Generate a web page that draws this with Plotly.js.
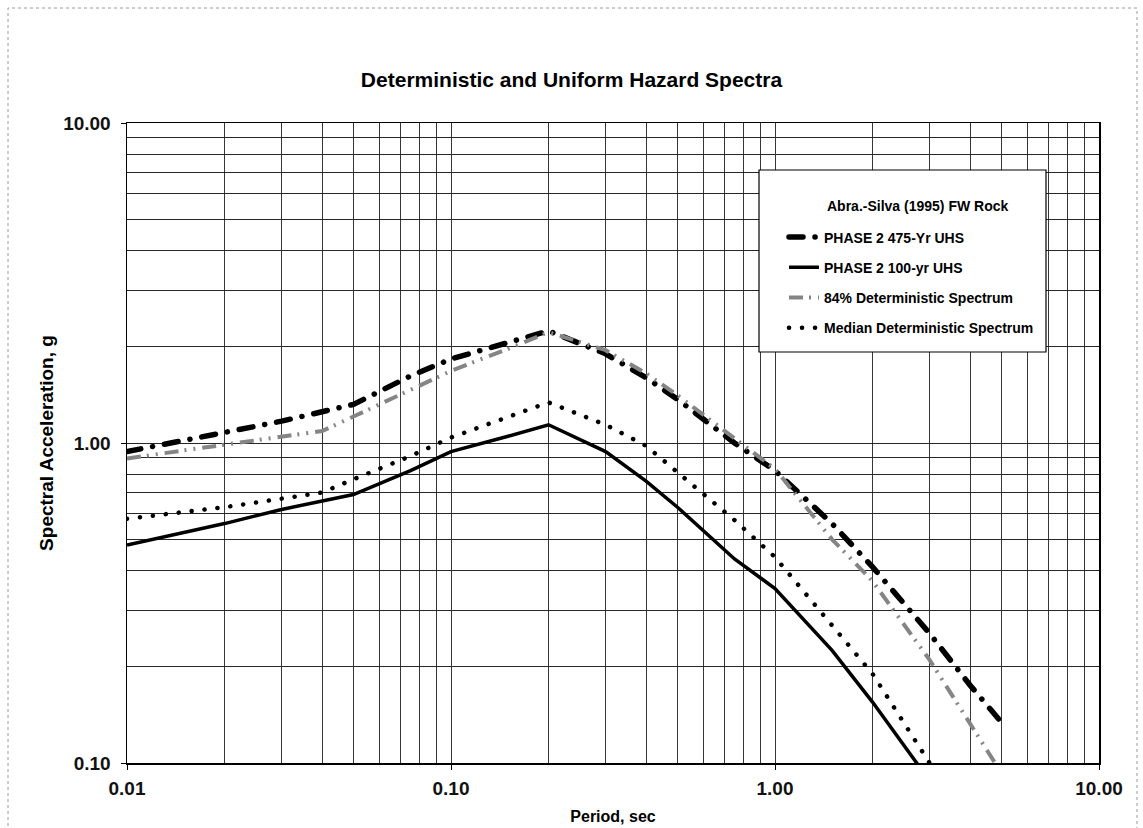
<!DOCTYPE html>
<html><head><meta charset="utf-8">
<script src="https://cdn.plot.ly/plotly-3.0.1.min.js"></script>
<style>html,body{margin:0;padding:0;background:#fff;} #chart{width:1143px;height:828px;}</style>
</head><body><div id="chart"></div>
<script>
// ---- data ----
const periodsUHS = [0.01, 0.02, 0.03, 0.05, 0.075, 0.1, 0.15, 0.2, 0.3, 0.4, 0.5, 0.75, 1.0, 1.5, 2.0, 3.0, 4.0, 5.0];
const uhs475 = [0.94, 1.08, 1.17, 1.32, 1.62, 1.83, 2.06, 2.24, 1.90, 1.60, 1.37, 1.00, 0.82, 0.56, 0.41, 0.254, 0.175, 0.134];
const uhs100 = [0.48, 0.56, 0.62, 0.69, 0.82, 0.94, 1.05, 1.14, 0.94, 0.76, 0.63, 0.434, 0.351, 0.225, 0.155, 0.088, null, null];
const periodsDet = [0.01, 0.02, 0.03, 0.04, 0.05, 0.075, 0.1, 0.15, 0.2, 0.3, 0.4, 0.5, 0.75, 1.0, 1.5, 2.0, 3.0, 4.0, 5.0];
const det84 = [0.895, 0.99, 1.05, 1.09, 1.21, 1.47, 1.68, 1.97, 2.22, 1.95, 1.65, 1.41, 1.03, 0.83, 0.50, 0.37, 0.21, 0.133, 0.093];
const detMedian = [0.58, 0.63, 0.67, 0.70, 0.77, 0.91, 1.04, 1.21, 1.34, 1.14, 0.98, 0.81, 0.574, 0.44, 0.27, 0.19, 0.10, null, null];
const seriesNames = ["PHASE 2 475-Yr UHS", "PHASE 2 100-yr UHS", "84% Deterministic Spectrum", "Median Deterministic Spectrum"];
const xTickVals = [0.01, 0.1, 1, 10];
const xTickText = ["0.01", "0.10", "1.00", "10.00"];
const yTickVals = [0.1, 1, 10];
const yTickText = ["0.10", "1.00", "10.00"];
const chartTitle = "Deterministic and Uniform Hazard Spectra";
const xTitle = "Period, sec";
const yTitle = "Spectral Acceleration, g";
const legendTitle = "Abra.-Silva (1995) FW Rock";

// minor grid positions (2..9 within each decade)
function minorVals(decades){ const v=[]; decades.forEach(d=>{for(let k=2;k<=9;k++) v.push(k*d);}); return v; }
const minorX = minorVals([0.01, 0.1, 1]);
const minorY = minorVals([0.1, 1]);

const FONT = "Liberation Sans, Arial, sans-serif";

const traces = [
  {x: periodsUHS, y: uhs475, name: seriesNames[0], mode: 'lines', legendgroup: 'a',
   line: {color: '#000', width: 5.5, dash: '14px,12px,0.1px,12px'}},
  {x: periodsUHS, y: uhs100, name: seriesNames[1], mode: 'lines', legendgroup: 'b',
   line: {color: '#000', width: 3.5}},
  {x: periodsDet, y: det84, name: seriesNames[2], mode: 'lines', legendgroup: 'c',
   line: {color: '#858585', width: 4, dash: '14px,6px,2px,7px,2px,7px'}},
  {x: periodsDet, y: detMedian, name: seriesNames[3], mode: 'lines', legendgroup: 'd',
   line: {color: '#000', width: 4.5, dash: '0.1px,12.9px'}}
];

// pixel helpers for plot-area paper coordinates (plot area 127..1099 x 123..763)
const px = v => (v - 127) / 972;
const py = v => (763 - v) / 640;

const gridCol = '#363636';
const layout = {
  width: 1143, height: 828,
  margin: {l: 127, r: 44, t: 123, b: 65},
  paper_bgcolor: '#fff', plot_bgcolor: '#fff',
  font: {family: FONT, color: '#000'},
  showlegend: true,
  title: {text: chartTitle, font: {family: FONT, size: 21, weight: 'bold', color: '#000'},
          x: 0.5, xref: 'container', xanchor: 'center', y: 1 - 80/828, yref: 'container', yanchor: 'middle'},
  xaxis: {
    type: 'log', range: [-2, 1], tickmode: 'array', tickvals: xTickVals, ticktext: xTickText,
    ticks: 'outside', ticklen: 5, tickcolor: '#000', tickwidth: 1, ticklabelstandoff: 3,
    tickfont: {family: FONT, size: 19, weight: 'bold', color: '#111'},
    showgrid: true, gridcolor: gridCol, gridwidth: 1,
    minor: {tickmode: 'array', tickvals: minorX, showgrid: true, gridcolor: gridCol, gridwidth: 1, ticks: ''},
    showline: true, linecolor: '#000', linewidth: 1.5, mirror: true, zeroline: false,
    title: {text: xTitle, font: {family: FONT, size: 16, weight: 'bold', color: '#000'}, standoff: 12}
  },
  yaxis: {
    type: 'log', range: [-1, 1], tickmode: 'array', tickvals: yTickVals, ticktext: yTickText,
    ticks: 'outside', ticklen: 5, tickcolor: '#000', tickwidth: 1, ticklabelstandoff: 6,
    tickfont: {family: FONT, size: 19, weight: 'bold', color: '#111'},
    showgrid: true, gridcolor: '#262626', gridwidth: 1,
    minor: {tickmode: 'array', tickvals: minorY, showgrid: true, gridcolor: '#262626', gridwidth: 1, ticks: ''},
    showline: true, linecolor: '#000', linewidth: 1.5, mirror: true, zeroline: false,
    title: {text: yTitle, font: {family: FONT, size: 19, weight: 'bold', color: '#000'}, standoff: 4}
  },
  legend: {
    x: px(784), y: py(221.5), xanchor: 'left', yanchor: 'top', xref: 'paper', yref: 'paper',
    bgcolor: 'rgba(0,0,0,0)', borderwidth: 0,
    font: {family: FONT, size: 14, weight: 'bold', color: '#000'},
    tracegroupgap: 9, traceorder: 'grouped'
  },
  annotations: [{text: legendTitle, xref: 'paper', yref: 'paper', x: px(825), y: py(206),
                 xanchor: 'left', yanchor: 'middle', showarrow: false,
                 font: {family: FONT, size: 14, weight: 'bold', color: '#000'}}],
  shapes: [
    {type: 'rect', xref: 'paper', yref: 'paper', x0: px(8), x1: px(1137), y0: -0.3, y1: py(8),
     line: {color: '#9a9a9a', width: 1, dash: 'dot'}, fillcolor: 'rgba(0,0,0,0)', layer: 'below'},
    {type: 'rect', xref: 'paper', yref: 'paper', x0: px(759), x1: px(1046), y0: py(352), y1: py(170),
     line: {color: '#000', width: 1.2}, fillcolor: '#fff', layer: 'above'}
  ]
};

Plotly.newPlot('chart', traces, layout, {staticPlot: true, displayModeBar: false}).then(gd => {
  gd.querySelectorAll('path').forEach(p => {
    const da = p.style.strokeDasharray || '';
    if (da.indexOf('0.1') !== -1) p.style.strokeLinecap = 'round';
  });
});
</script></body></html>
